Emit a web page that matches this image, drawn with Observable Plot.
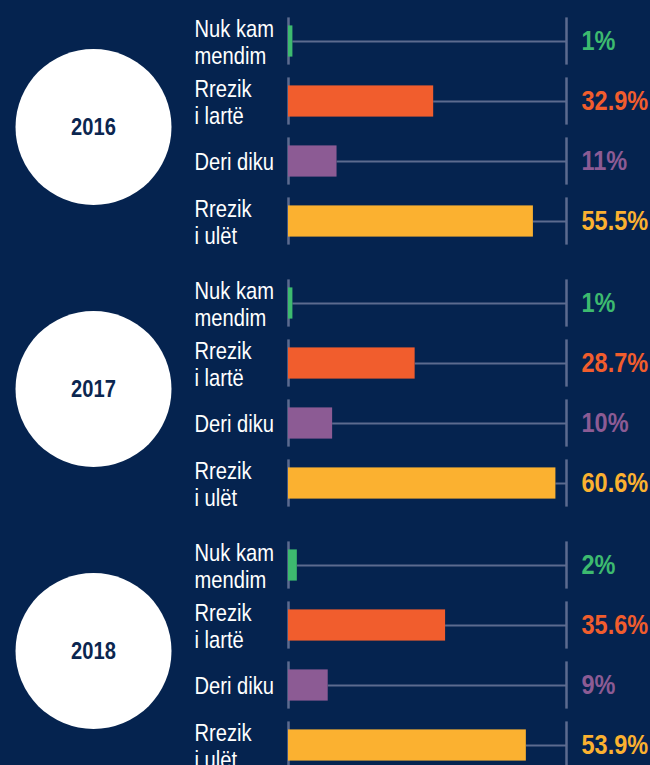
<!DOCTYPE html>
<html>
<head>
<meta charset="utf-8">
<script src="https://cdn.jsdelivr.net/npm/d3@7"></script>
<script src="https://cdn.jsdelivr.net/npm/@observablehq/plot@0.6"></script>
<style>
  html, body { margin: 0; padding: 0; background: #05234f; overflow: hidden; }
  #chart svg { display: block; }
</style>
</head>
<body>
<div id="chart"></div>
<script>
const years = ["2016", "2017", "2018"];
const categories = ["Nuk kam\nmendim", "Rrezik\ni lartë", "Deri diku", "Rrezik\ni ulët"];
const values2016 = [1, 32.9, 11, 55.5];
const values2017 = [1, 28.7, 10, 60.6];
const values2018 = [2, 35.6, 9, 53.9];
const colors = ["#3dba6f", "#f15d2d", "#8c5b94", "#fbb130"];
const xMax = 63;

const valuesByYear = {"2016": values2016, "2017": values2017, "2018": values2018};
const rows = years.flatMap(year =>
  categories.map((cat, i) => ({year, cat, value: valuesByYear[year][i], color: colors[i]}))
);

const font = "'Liberation Sans', Arial, sans-serif";
const lineColor = "#5c6b8f";

const chart = Plot.plot({
  width: 650,
  height: 777,
  marginLeft: 288,
  marginRight: 84,
  marginTop: 8,
  marginBottom: 0,
  style: {background: "#05234f", fontFamily: font},
  x: {domain: [0, xMax], axis: null},
  y: {domain: categories, padding: 0, axis: null},
  fy: {domain: years, paddingInner: 0.074, paddingOuter: 0, axis: null},
  color: {type: "identity"},
  marks: [
    Plot.ruleX(rows, {x: 0, y1: "cat", y2: "cat", fy: "year", stroke: lineColor, strokeWidth: 2.5, insetTop: 6.4, insetBottom: 6.4}),
    Plot.ruleX(rows, {x: xMax, y1: "cat", y2: "cat", fy: "year", stroke: lineColor, strokeWidth: 2.5, insetTop: 6.4, insetBottom: 6.4}),
    Plot.ruleY(rows, {x1: "value", x2: xMax, y: "cat", fy: "year", stroke: lineColor, strokeWidth: 2}),
    Plot.barX(rows, {x: "value", y: "cat", fy: "year", fill: "color", insetTop: 14.4, insetBottom: 14.4}),
    Plot.text(rows, {y: "cat", fy: "year", text: "cat", frameAnchor: "left", dx: -94, textAnchor: "start",
      fill: "white", fontSize: 24, lineHeight: 1.12}),
    Plot.text(rows, {y: "cat", fy: "year", text: d => `${d.value}%`, frameAnchor: "right", dx: 15, textAnchor: "start",
      fill: "color", fontSize: 28, fontWeight: "bold"}),
    Plot.dot(years, {fy: d => d, frameAnchor: "left", dx: -195, dy: -4, r: 78, fill: "white", stroke: null}),
    Plot.text(years, {fy: d => d, text: d => d, frameAnchor: "left", textAnchor: "middle", dx: -195, dy: -4,
      fill: "#0b2650", fontSize: 24, fontWeight: "bold"})
  ]
});
// emulate the condensed typeface of the original by narrowing glyphs horizontally
d3.select(chart).selectAll("text").attr("transform", function() {
  return (this.getAttribute("transform") || "") + " scale(0.84,1)";
});
document.getElementById("chart").appendChild(chart);
</script>
</body>
</html>
